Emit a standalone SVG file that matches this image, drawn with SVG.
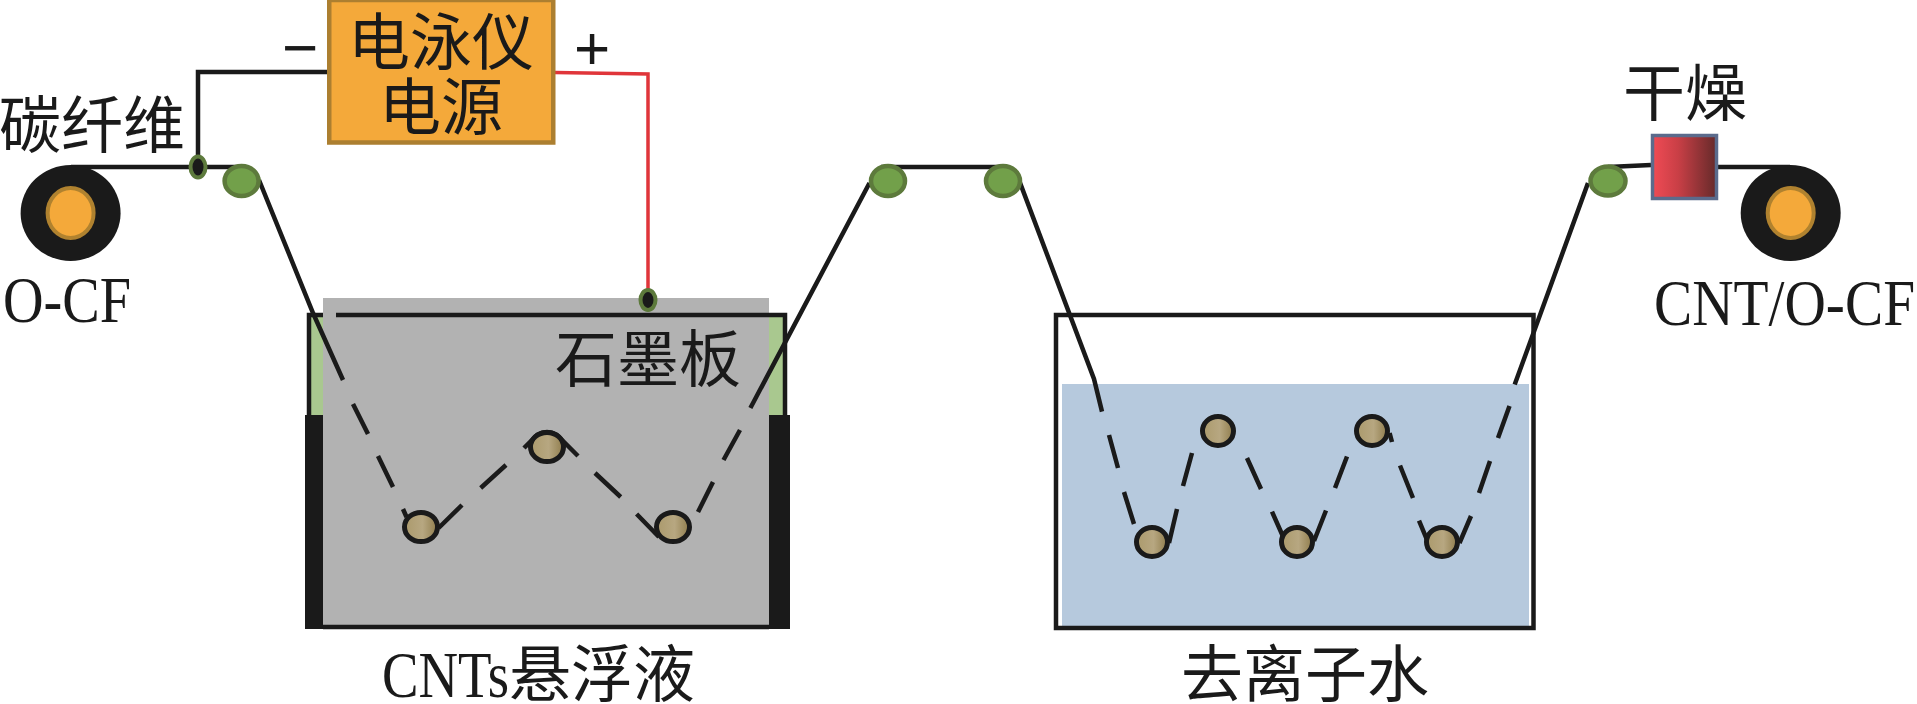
<svg xmlns="http://www.w3.org/2000/svg" width="1917" height="704" viewBox="0 0 1917 704">
<style>
text{fill:#1a1a1a;font-family:"Noto Sans CJK SC","Liberation Serif",serif;font-size:62px}
.lat{font-family:"Liberation Serif","Noto Sans CJK SC",serif;font-size:66px}
.sign{font-family:"Liberation Sans",sans-serif;font-size:62px;text-anchor:middle}
.fib{fill:none;stroke:#1a1a1a;stroke-width:4.500}
.red{fill:none;stroke:#e0353a;stroke-width:3.500}
.guide{fill:#72a04a;stroke:#5d7a3c;stroke-width:4.500}
.clamp{fill:#1a1a1a;stroke:#5d7a3c;stroke-width:4}
.roll{fill:url(#tan);stroke:#1a1a1a;stroke-width:5}
.hub{fill:#f4a93a;stroke:#b0822f;stroke-width:4}
</style>
<defs>
<linearGradient id="tan"><stop offset="0" stop-color="#ab9a6c"/><stop offset=".55" stop-color="#b7a781"/><stop offset="1" stop-color="#8f7c4c"/></linearGradient>
<linearGradient id="heat"><stop offset="0" stop-color="#f04b55"/><stop offset=".4" stop-color="#c93f46"/><stop offset="1" stop-color="#652a2a"/></linearGradient>
</defs>
<rect width="1917" height="704" fill="#fff"/>

<g id="tank-cnt">
<rect x="309" y="316" width="476" height="311" fill="#a9c88f"/>
<rect x="323" y="298" width="446" height="329" fill="#b2b2b2"/>
<rect x="305" y="415" width="18" height="214" fill="#1a1a1a"/>
<rect x="769" y="415" width="21" height="214" fill="#1a1a1a"/>
<path class="fib" d="M323 627H769"/>
<path class="fib" d="M309 415V315H323M336 315H785V415"/>
<text x="555" y="382">石墨板</text>
</g>

<g id="tank-water">
<rect x="1062" y="384" width="467" height="243" fill="#b6c9dd"/>
<rect x="1056" y="315" width="477.500" height="313" fill="none" stroke="#1a1a1a" stroke-width="4.500"/>
</g>

<g id="connectors">
<path class="fib" d="M198 167V72H327"/>
<path class="red" d="M555 72.500L648 74V290"/>
<path class="fib" d="M71 167H240M259 180L313 313L343 380"/>
<path class="fib" d="M353 404L368 434M378 456L393 487M403 509L406.500 517"/>
<path class="fib" d="M438.600 528L462 505M480.700 488L506 465M524 448L537 435Q547 429 557 435L578 456M595 473L620.700 497M636.600 514L659 537"/>
<path class="fib" d="M698 512L713 482M723.500 460L740 430M750.400 408L869.500 183M881 167H1000M1016 172L1094 379L1102 411.600"/>
<path class="fib" d="M1109 435L1118 468M1124 492L1134 524M1169 543L1177 509M1183 486L1192 453"/>
<path class="fib" d="M1247 458L1261 489M1272 511.600L1285 541M1314 541L1326 510.500M1335 488L1347 456.500M1389.600 433L1392 442M1400 465.500L1413 498M1419 520.600L1429 544.700"/>
<path class="fib" d="M1459.500 543L1471 516M1479 493L1490 461M1498 438L1509.500 406M1514.700 384.600L1588 183M1608 167L1651 165M1717 167H1790"/>
</g>

<g id="power-supply">
<rect x="329.250" y="0" width="224" height="142.500" fill="#f4a93a" stroke="#ac7f30" stroke-width="4.500"/>
<text x="348" y="65">电泳仪</text>
<text x="379" y="130">电源</text>
</g>
<g id="minus"><text class="sign" x="300" y="69">−</text></g>
<g id="plus"><text class="sign" x="592" y="69">+</text></g>

<g id="spool-left">
<ellipse cx="70.600" cy="213" rx="50" ry="48" fill="#1a1a1a"/>
<ellipse class="hub" cx="70.600" cy="213" rx="23" ry="25"/>
</g>
<g id="label-cf"><text x="-1" y="148">碳纤维</text></g>
<g id="label-ocf"><text class="lat" x="3" y="322" textLength="128" lengthAdjust="spacingAndGlyphs">O-CF</text></g>
<g id="clamp-left"><ellipse class="clamp" cx="198" cy="167" rx="7.500" ry="10.500"/></g>
<g id="clamp-plate"><ellipse class="clamp" cx="648" cy="300" rx="7.500" ry="10"/></g>

<g id="guide-1"><ellipse class="guide" cx="241.600" cy="181" rx="17" ry="15"/></g>
<g id="guide-2"><ellipse class="guide" cx="888" cy="181" rx="17" ry="15"/></g>
<g id="guide-3"><ellipse class="guide" cx="1003" cy="181" rx="17" ry="15"/></g>
<g id="guide-4"><ellipse class="guide" cx="1608" cy="181" rx="17.500" ry="14.500"/></g>

<g id="roller-a1"><ellipse class="roll" cx="421" cy="527" rx="16.500" ry="14.500"/></g>
<g id="roller-a2"><ellipse class="roll" cx="547" cy="447" rx="16.500" ry="14.500"/></g>
<g id="roller-a3"><ellipse class="roll" cx="673" cy="527" rx="16.500" ry="14.500"/></g>
<g id="roller-b1"><ellipse class="roll" cx="1152" cy="542" rx="15.500" ry="14.500"/></g>
<g id="roller-b2"><ellipse class="roll" cx="1297" cy="542" rx="15.500" ry="14.500"/></g>
<g id="roller-b3"><ellipse class="roll" cx="1442" cy="542" rx="15.500" ry="14.500"/></g>
<g id="roller-b4"><ellipse class="roll" cx="1218" cy="431" rx="15.500" ry="14.500"/></g>
<g id="roller-b5"><ellipse class="roll" cx="1372" cy="431" rx="15.500" ry="14.500"/></g>

<g id="dryer">
<rect x="1652.500" y="135.500" width="64" height="63" fill="url(#heat)" stroke="#5b6b8c" stroke-width="3.500"/>
<text x="1623" y="116">干燥</text>
</g>
<g id="spool-right">
<ellipse cx="1790.700" cy="213" rx="50" ry="48" fill="#1a1a1a"/>
<ellipse class="hub" cx="1790.700" cy="213" rx="23" ry="25"/>
</g>
<g id="label-cnt-ocf"><text class="lat" x="1654" y="325" textLength="261" lengthAdjust="spacingAndGlyphs">CNT/O-CF</text></g>
<g id="label-cnts"><text x="382" y="697"><tspan class="lat" textLength="127" lengthAdjust="spacingAndGlyphs">CNTs</tspan><tspan>悬浮液</tspan></text></g>
<g id="label-water"><text x="1181" y="697">去离子水</text></g>
</svg>
